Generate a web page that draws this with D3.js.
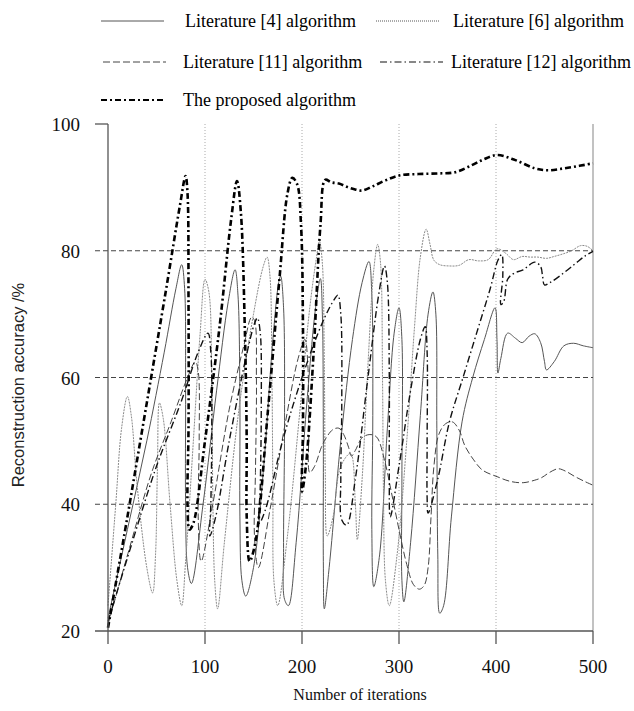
<!DOCTYPE html>
<html>
<head>
<meta charset="utf-8">
<script src="https://cdn.jsdelivr.net/npm/d3@7"></script>
<style>
  body { margin: 0; background: #fff; }
  svg { display: block; }
</style>
</head>
<body>
<div id="chart"></div>
<script>
// iteration / accuracy pairs (curves loop back, so keep point order)
var lit4 = [[0,22],[20,36],[40,50],[58,64],[70,74],[76,77.8],[79,74],[80,58],[80,40],[82,30],[86,27.5],[98,40],[112,58],[124,72],[131,77],[134,73],[136,56],[136,38],[138,28],[142,25.5],[150,30],[160,45],[170,66],[176,75],[178,76],[181,71],[182,52],[181,33],[182,25],[186,24],[194,34],[205,56],[214,71],[219,75.6],[221,70],[222,50],[222,31],[223,23.5],[228,30],[240,50],[252,66],[262,75],[269,78.3],[272,73],[273,54],[272,36],[274,27],[280,32],[288,52],[295,67],[300,71],[303,66],[303,44],[303,28],[305,24.6],[312,34],[322,54],[330,70],[335,73.5],[338,70],[339,52],[340,32],[342,22.8],[346,24],[354,38],[365,53],[376,60],[388,66],[399,71],[401,66],[402,60.7],[405,63],[412,67],[420,66.2],[427,65.5],[434,66.5],[440,66.9],[446,65.5],[450,62.5],[452,61.2],[460,62.5],[470,65],[480,65.4],[490,65],[500,64.7]]

var lit6 = [[0,24],[8,40],[14,52],[20,57],[24,54],[30,43],[40,30],[46,26],[49,32],[51,46],[53,56],[57,53.5],[64,40],[71,28],[76,24],[80,31],[88,50],[95,67],[100,75.5],[104,73.5],[107,60],[108,42],[110,28],[113,23.5],[120,34],[135,55],[150,70],[160,77.5],[164,79],[167,76],[169,60],[170,42],[171,28],[175,24],[185,35],[198,55],[208,71],[215,79],[218,81.5],[221,78],[223,62],[224,45],[226,35],[232,38],[240,46],[250,48],[255,40],[257,34.4],[262,44],[268,62],[274,77],[278,81],[281,78],[283,60],[284,42],[286,28],[290,24],[298,32],[308,50],[316,68],[322,79],[328,83.4],[332,81],[336,78.5],[342,77.8],[352,77.6],[362,77.7],[372,78.6],[382,78.4],[392,78.6],[401,80.3],[410,79.6],[418,78.6],[427,79.1],[435,79],[443,79],[452,78.8],[460,79.1],[469,79.5],[478,80],[487,80.8],[494,80.7],[500,80]]

var lit11 = [[0,21],[22,33],[45,45],[65,53],[82,60],[90,62.5],[93,61],[94,50],[93,38],[96,31],[108,40],[125,55],[140,65],[148,69.5],[151,69],[153,60],[152,45],[151,35],[155,30],[168,40],[183,53],[196,63],[203,66],[206,62],[207,52],[208,45],[213,46],[220,49],[225,50.5],[232,51.8],[238,52],[243,51],[248,49],[251,47.6],[255,48.5],[262,50.5],[270,51],[277,50.6],[285,47],[292,42],[300,36],[308,30.5],[315,27.3],[321,26.6],[326,27.2],[330,30],[333,38],[336,46],[341,51],[348,52.7],[355,53],[362,51.7],[368,49.2],[377,47],[386,45.4],[402,44.3],[415,43.6],[428,43.4],[440,43.8],[447,44.2],[455,45],[464,45.6],[472,45.2],[481,44.4],[490,43.7],[500,43]]

var lit12 = [[0,21.5],[25,34],[50,46],[75,56],[93,64],[103,67],[106,64],[107,52],[106,40],[105,35],[111,38],[125,50],[142,63],[151,68.5],[154,69.4],[157,67],[158,55],[157,43],[156,37],[162,39],[180,50],[200,60],[222,69],[234,72.5],[237,73],[240,70],[241,56],[240,44],[241,37.5],[246,36.7],[255,44],[268,60],[279,73],[285,77.6],[288,75],[290,60],[290,45],[291,38],[300,46],[312,58],[322,66],[327,68],[329,64],[329,50],[329,41],[330,38.6],[340,44],[352,53],[366,60],[380,67],[394,74],[402,78.5],[406,79.4],[407,76],[405,71.5],[408,72],[412,75.5],[418,76.4],[428,77],[440,78.2],[446,77.5],[448,76],[450,74.6],[456,75],[469,76.4],[482,78],[492,79.2],[500,79.9]]

var proposed = [[0,20.5],[20,38],[40,56],[60,74],[74,87],[80,91.8],[82,89],[83,72],[83,52],[82,40],[84,36],[88,37],[100,50],[115,68],[127,85],[133,91],[137,86],[141,68],[143,50],[143,38],[146,31],[152,34],[165,55],[177,76],[185,89],[190,91.5],[195,90.5],[199,84],[201,68],[201,52],[200,42],[204,46],[212,64],[219,84],[224,91.2],[230,90.8],[238,90.6],[246,90.1],[254,89.7],[262,89.5],[272,90.1],[286,91.1],[301,91.9],[320,92.1],[340,92.2],[358,92.4],[375,93.5],[387,94.4],[401,95.1],[420,94.3],[440,93],[454,92.7],[470,93],[486,93.4],[500,93.8]]

var xTicks = [0, 100, 200, 300, 400, 500]
var yTicks = [20, 40, 60, 80, 100]
var seriesNames = ['Literature [4] algorithm', 'Literature [6] algorithm',
                   'Literature [11] algorithm', 'Literature [12] algorithm',
                   'The proposed algorithm']

var W = 634, H = 711
var svg = d3.select('#chart').append('svg').attr('width', W).attr('height', H)

var x = d3.scaleLinear().domain([0, 500]).range([108, 593])
var y = d3.scaleLinear().domain([20, 100]).range([631, 124])

var serif = '"Liberation Serif", "Times New Roman", serif'

// styles for each series, same order as seriesNames
var styles = [
  { data: lit4,     color: '#555', width: 1,   dash: null },
  { data: lit6,     color: '#8a8a8a', width: 1, dash: '2,1' },
  { data: lit11,    color: '#444', width: 1,   dash: '7,3' },
  { data: lit12,    color: '#111', width: 1.4, dash: '7,3,1.5,3' },
  { data: proposed, color: '#000', width: 2.6, dash: '6,3,2,3' }
]

// vertical dotted grid
svg.selectAll('.vgrid').data(xTicks.slice(1, 5)).enter().append('line')
  .attr('x1', d => x(d)).attr('x2', d => x(d))
  .attr('y1', y(100)).attr('y2', y(20))
  .attr('stroke', '#aaa').attr('stroke-width', 1).attr('stroke-dasharray', '1,2')

// right border at 500
svg.append('line')
  .attr('x1', x(500)).attr('x2', x(500)).attr('y1', y(100)).attr('y2', y(20))
  .attr('stroke', '#999').attr('stroke-width', 1.2)

// horizontal dashed grid
svg.selectAll('.hgrid').data([40, 60, 80]).enter().append('line')
  .attr('x1', 95).attr('x2', x(500))
  .attr('y1', d => y(d)).attr('y2', d => y(d))
  .attr('stroke', '#444').attr('stroke-width', 1).attr('stroke-dasharray', '5,3')

// curves
svg.append('clipPath').attr('id', 'plotclip').append('rect')
  .attr('x', x(0) - 2).attr('y', y(100) - 4).attr('width', x(500) - x(0) + 4).attr('height', y(20) - y(100) + 6)

var line = d3.line()
  .x(d => x(d[0])).y(d => y(d[1]))
  .curve(d3.curveCatmullRom.alpha(0.5))

var plot = svg.append('g').attr('clip-path', 'url(#plotclip)')
styles.forEach(function(s) {
  plot.append('path')
    .attr('d', line(s.data))
    .attr('fill', 'none')
    .attr('stroke', s.color)
    .attr('stroke-width', s.width)
    .attr('stroke-dasharray', s.dash)
})

// axes
svg.append('line').attr('x1', x(0)).attr('x2', x(0)).attr('y1', y(100)).attr('y2', y(20) + 13)
  .attr('stroke', '#555').attr('stroke-width', 1.3)
svg.append('line').attr('x1', 95).attr('x2', x(500)).attr('y1', y(20)).attr('y2', y(20))
  .attr('stroke', '#555').attr('stroke-width', 1.3)
svg.append('line').attr('x1', 95).attr('x2', x(0)).attr('y1', y(100)).attr('y2', y(100))
  .attr('stroke', '#555').attr('stroke-width', 1.3)

svg.selectAll('.xtick').data(xTicks.slice(1)).enter().append('line')
  .attr('x1', d => x(d)).attr('x2', d => x(d))
  .attr('y1', y(20)).attr('y2', y(20) + 13)
  .attr('stroke', '#555').attr('stroke-width', 1.3)

svg.selectAll('.xlab').data(xTicks).enter().append('text')
  .attr('x', d => x(d)).attr('y', 673)
  .attr('text-anchor', 'middle')
  .style('font-family', serif).style('font-size', '19px').attr('fill', '#111')
  .text(d => d)

svg.selectAll('.ylab').data(yTicks).enter().append('text')
  .attr('x', 80).attr('y', d => y(d) + 7)
  .attr('text-anchor', 'end')
  .style('font-family', serif).style('font-size', '19px').attr('fill', '#111')
  .text(d => d)

svg.append('text')
  .attr('x', 360).attr('y', 700)
  .attr('text-anchor', 'middle')
  .style('font-family', serif).style('font-size', '16px').attr('fill', '#111')
  .text('Number of iterations')

svg.append('text')
  .attr('transform', 'translate(24,385) rotate(-90)')
  .attr('text-anchor', 'middle')
  .style('font-family', '"Liberation Sans", Arial, sans-serif')
  .style('font-size', '16.5px').attr('fill', '#222')
  .text('Reconstruction accuracy /%')

// legend
var legendPos = [
  { lx: 101, tx: 185, ly: 21 },
  { lx: 376, tx: 453, ly: 21 },
  { lx: 103, tx: 183, ly: 62 },
  { lx: 380, tx: 451, ly: 62 },
  { lx: 101, tx: 183, ly: 100 }
]
legendPos.forEach(function(p, i) {
  var s = styles[i]
  svg.append('line')
    .attr('x1', p.lx).attr('x2', p.lx + 63).attr('y1', p.ly).attr('y2', p.ly)
    .attr('stroke', i == 1 ? '#555' : s.color)
    .attr('stroke-width', i == 4 ? 1.8 : (i == 3 ? 1.1 : 1))
    .attr('stroke-dasharray', i == 1 ? '1,1' : s.dash)
  svg.append('text')
    .attr('x', p.tx).attr('y', p.ly + 6)
    .style('font-family', serif).style('font-size', '18px').attr('fill', '#000')
    .text(seriesNames[i])
})
</script>
</body>
</html>
